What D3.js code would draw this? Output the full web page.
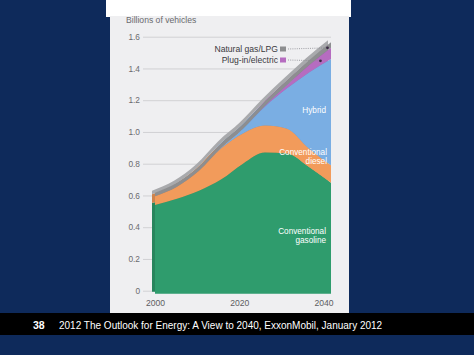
<!DOCTYPE html>
<html>
<head>
<meta charset="utf-8">
<script src="https://cdn.jsdelivr.net/npm/d3@7"></script>
<style>
  html, body { margin: 0; padding: 0; background: #0e2a5b; }
  svg { display: block; }
  text { font-family: "Liberation Sans", Arial, sans-serif; }
</style>
</head>
<body>
<svg id="chart" width="474" height="355"></svg>
<script>
// ---- data ----
const years      = [2000, 2005, 2010, 2015, 2020, 2025, 2030, 2035, 2040];
const gasoline   = [0.54, 0.58, 0.63, 0.70, 0.80, 0.87, 0.865, 0.78, 0.68];
const diesel     = [0.055, 0.075, 0.125, 0.195, 0.19, 0.17, 0.155, 0.115, 0.11];
const hybrid     = [0, 0, 0, 0.005, 0.03, 0.12, 0.255, 0.48, 0.67];
const plugin     = [0, 0, 0, 0, 0, 0.005, 0.02, 0.045, 0.07];
const natgas     = [0.022, 0.025, 0.028, 0.028, 0.028, 0.028, 0.03, 0.032, 0.035];
const seriesKeys = ["gasoline", "diesel", "hybrid", "plugin", "natgas"];
const seriesColors = ["#2f9c6d", "#f29b5b", "#7aaee3", "#b66cc0", "#8d8e90"];
const yTicks = [0, 0.2, 0.4, 0.6, 0.8, 1.0, 1.2, 1.4, 1.6];
const xTicks = [2000, 2020, 2040];
const legendItems = [
  { key: "natgas", label: "Natural gas/LPG", year: 2039.2 },
  { key: "plugin", label: "Plug-in/electric", year: 2037.6 }
];
const caption = "2012 The Outlook for Energy: A View to 2040, ExxonMobil, January 2012";
const slideNo = "38";

const svg = d3.select("#chart");

// slide background pieces
svg.append("rect").attr("x", 106).attr("y", 0).attr("width", 245).attr("height", 17).attr("fill", "#ffffff");
svg.append("rect").attr("x", 110).attr("y", 16).attr("width", 239).attr("height", 297).attr("fill", "#efeff1");
svg.append("rect").attr("x", 0).attr("y", 313).attr("width", 474).attr("height", 22).attr("fill", "#000000");

// scales
const y = d3.scaleLinear().domain([0, 1.6]).range([290.7, 36.7]);
const x = d3.scaleLinear().domain([2000, 2040]).range([155, 331]);
const xLab = d3.scaleLinear().domain([2000, 2040]).range([155, 323.5]);

// gridlines + y labels
const yAxis = d3.axisLeft(y).tickValues(yTicks).tickSize(-(331 - 143)).tickPadding(3)
  .tickFormat(d => d === 0 ? "0" : d3.format(".1f")(d));
const gy = svg.append("g").attr("transform", "translate(143,0)").call(yAxis);
gy.select(".domain").remove();
gy.selectAll("line").attr("stroke", "#c9c9cc").attr("stroke-width", 0.8);
gy.selectAll("text").attr("fill", "#6a6a6e").attr("font-size", 8.3);

// axis title
svg.append("text").attr("x", 126).attr("y", 23).attr("font-size", 8.6).attr("fill", "#6a6a6e")
  .text("Billions of vehicles");

// stack
const table = years.map((yr, i) => ({
  year: yr, gasoline: gasoline[i], diesel: diesel[i], hybrid: hybrid[i], plugin: plugin[i], natgas: natgas[i]
}));
const stacked = d3.stack().keys(seriesKeys)(table);

const area = d3.area()
  .x(d => x(d.data.year))
  .y0((d) => d[0] === 0 ? y(0) + 3 : y(d[0]))
  .y1(d => y(d[1]))
  .curve(d3.curveMonotoneX);

// side (depth) faces
svg.append("g").attr("transform", "translate(-3,-2)")
  .selectAll("path").data(stacked).join("path")
  .attr("d", area)
  .attr("fill", (d, i) => i === 4 ? "#a9aaad" : d3.color(seriesColors[i]).darker(0.45).formatHex());

// front faces
svg.append("g")
  .selectAll("path").data(stacked).join("path")
  .attr("d", area)
  .attr("fill", (d, i) => seriesColors[i]);

// x labels
const xAxis = d3.axisBottom(xLab).tickValues(xTicks).tickSize(0).tickPadding(3).tickFormat(d3.format("d"));
const gx = svg.append("g").attr("transform", "translate(0,297)").call(xAxis);
gx.select(".domain").remove();
gx.selectAll("text").attr("fill", "#5d5d62").attr("font-size", 8.6);

// series labels (inside areas)
const inLabels = [
  { lines: ["Hybrid"], x: 326, y: 113 },
  { lines: ["Conventional", "diesel"], x: 327, y: 155 },
  { lines: ["Conventional", "gasoline"], x: 326, y: 234 }
];
inLabels.forEach(l => {
  const t = svg.append("text").attr("x", l.x).attr("y", l.y).attr("text-anchor", "end")
    .attr("font-size", 8.2).attr("fill", "#ffffff");
  l.lines.forEach((s, k) => t.append("tspan").attr("x", l.x).attr("dy", k === 0 ? 0 : 8.8).text(s));
});

// legend with leader lines to dots
function stackAt(key, yr) {
  const s = stacked[seriesKeys.indexOf(key)];
  const i = d3.bisectLeft(years, yr);
  const a = s[i - 1], b = s[i];
  const t = (yr - years[i - 1]) / (years[i] - years[i - 1]);
  return ((a[0] + a[1]) / 2) * (1 - t) + ((b[0] + b[1]) / 2) * t;
}
const legendY = [49, 60];
legendItems.forEach((it, k) => {
  const ly = legendY[k];
  const color = seriesColors[seriesKeys.indexOf(it.key)];
  svg.append("text").attr("x", 278).attr("y", ly + 3).attr("text-anchor", "end")
    .attr("font-size", 8.6).attr("fill", "#3a3a3e").text(it.label);
  svg.append("rect").attr("x", 280).attr("y", ly - 2.5).attr("width", 6).attr("height", 5).attr("fill", color);
  const dx = x(it.year), dy = y(stackAt(it.key, it.year));
  svg.append("line").attr("x1", 288).attr("x2", dx).attr("y1", ly).attr("y2", dy)
    .attr("stroke", "#8a8a90").attr("stroke-width", 0.8).attr("stroke-dasharray", "1,1.2");
  svg.append("circle").attr("cx", dx).attr("cy", dy).attr("r", 1.4).attr("fill", "#3a2a45");
});

// footer
svg.append("text").attr("x", 33).attr("y", 329).attr("font-size", 10.5).attr("font-weight", "bold")
  .attr("fill", "#ffffff").text(slideNo);
svg.append("text").attr("x", 59).attr("y", 329).attr("font-size", 10).attr("fill", "#ffffff").text(caption);
</script>
</body>
</html>
